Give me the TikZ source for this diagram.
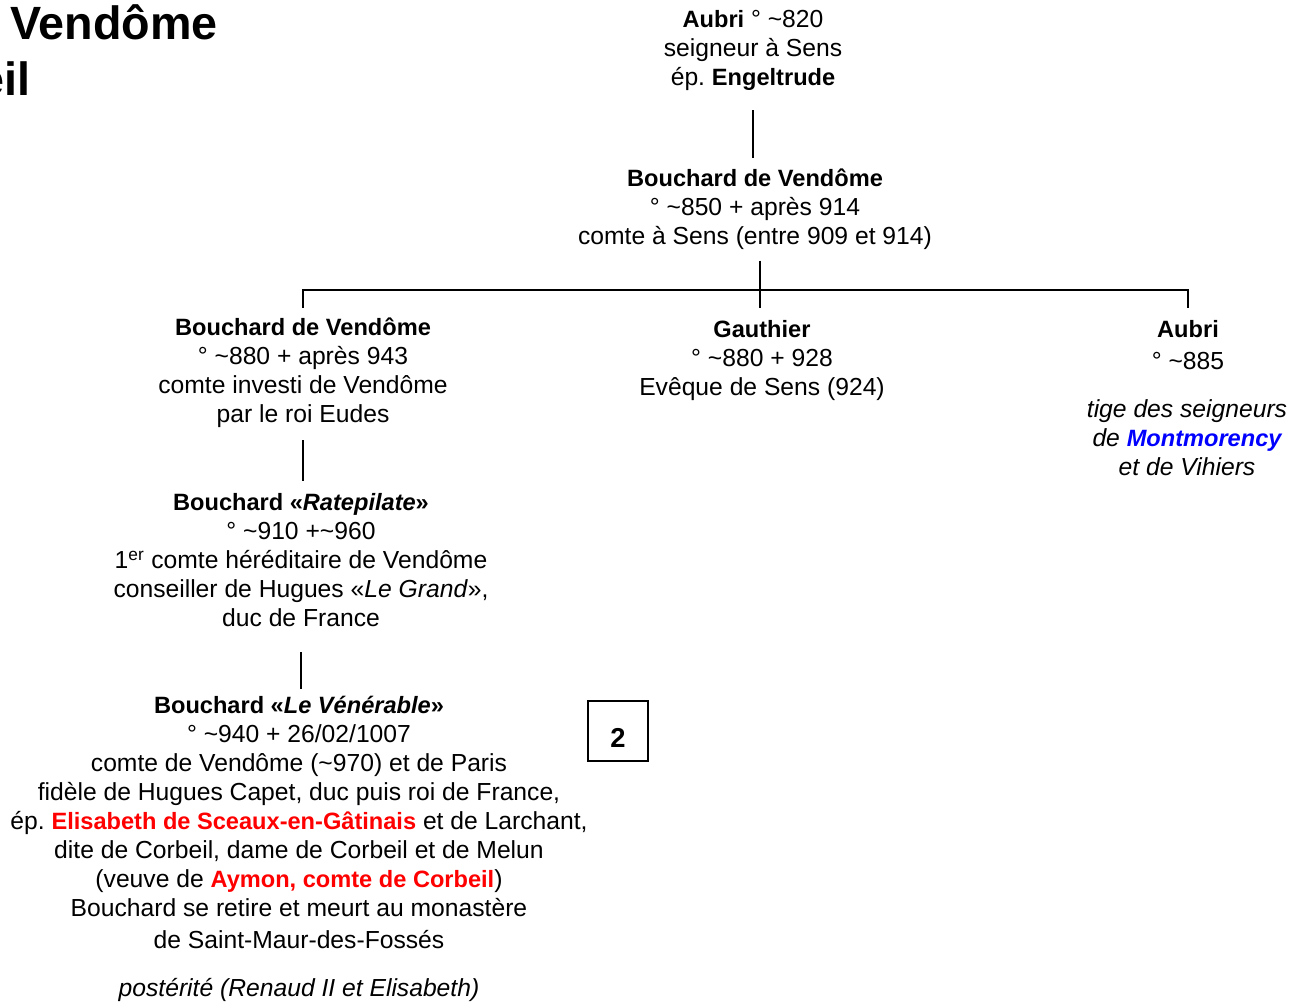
\documentclass[tikz,border=0pt]{standalone}
\usepackage{fontspec}
\setmainfont{Liberation Sans}
\usepackage{xcolor}
\definecolor{rouge}{RGB}{255,0,0}
\definecolor{bleu}{RGB}{0,0,255}
\frenchspacing
\newcommand{\nom}[1]{{\fontsize{17.7}{21.75}\selectfont\bfseries #1}}

\begin{document}
\begin{tikzpicture}[x=0.75pt,y=-0.75pt,
		person/.style={align=center, inner sep=0pt, anchor=base,
			font=\fontsize{18.5}{21.75}\selectfont},
		titre/.style={inner sep=0pt, anchor=base east,
			font=\fontsize{35}{40}\selectfont\bfseries},
		link/.style={line width=2pt},
		boite/.style={draw, line width=1.1pt, minimum size=45pt, inner sep=0pt,
			text height=25pt, text depth=0pt,
			font=\fontsize{20.5}{24}\selectfont\bfseries}]
	\useasboundingbox (0,0) rectangle (1290,1001);
	\begin{scope}
		\clip (0,0) rectangle (1290,1001);
		\node[titre] (titre1) at (218,39) {Vendôme};
		\node[titre] (titre2) at (31,95) {eil};
	\end{scope}

	% les ancres "base" sont sur la derniere ligne
	\node[person] (aubri) at (753,85.5) {
		\nom{Aubri} ° \textasciitilde820\\
		seigneur à Sens\\
		ép. \nom{Engeltrude}};
	\node[person] (bcv) at (755,244.5) {
		\nom{Bouchard de Vendôme}\\
		° \textasciitilde850 + après 914\\
		comte à Sens (entre 909 et 914)};
	\coordinate (fork) at (760,290);

	\node[person] (bvl) at (303,422.5) {
		\nom{Bouchard de Vendôme}\\
		° \textasciitilde880 + après 943\\
		comte investi de Vendôme\\
		par le roi Eudes};
	\node[person] (gauthier) at (762,395.5) {
		\nom{Gauthier}\\
		° \textasciitilde880 + 928\\
		Evêque de Sens (924)};
	\node[person] (aubri2) at (1188,369.5) {
		\nom{Aubri}\\[2.25pt]
		° \textasciitilde885};
	\node[person, font=\fontsize{18.5}{21.75}\selectfont\itshape] (tige) at (1187,475.5) {
		tige des seigneurs\\
		de \nom{\color{bleu}Montmorency}\\
		et de Vihiers};

	\node[person] (ratepilate) at (301,626.5) {
		\nom{Bouchard «\textit{Ratepilate}»}\\
		° \textasciitilde910 +\textasciitilde960\\
		1\textsuperscript{er} comte héréditaire de Vendôme\\
		conseiller de Hugues «\textit{Le Grand}»,\\
		duc de France};
	\node[person] (venerable) at (299,948.5) {
		\nom{Bouchard «\textit{Le Vénérable}»}\\
		° \textasciitilde940 + 26/02/1007\\
		comte de Vendôme (\textasciitilde970) et de Paris\\
		fidèle de Hugues Capet, duc puis roi de France,\\
		ép. \nom{\color{rouge}Elisabeth de Sceaux-en-Gâtinais} et de Larchant,\\
		dite de Corbeil, dame de Corbeil et de Melun\\
		(veuve de \nom{\color{rouge}Aymon, comte de Corbeil})\\
		Bouchard se retire et meurt au monastère\\[2.4pt]
		de Saint-Maur-des-Fossés};
	\node[person, font=\fontsize{18.5}{21.75}\selectfont\itshape] (posterite) at (299,996.5) {
		postérité (Renaud II et Elisabeth)};
	\node[boite] (num) at (618,731) {2};

	% liens de filiation
	\draw[link, shorten <=14.5pt, shorten >=8pt] (aubri.south) -- (aubri.south |- bcv.north);
	\draw[link, shorten <=8pt] (fork |- bcv.south) -- (fork);
	\draw[link, shorten >=7.5pt] (fork) -| (bvl.north);
	\draw[link, shorten >=9pt] (fork) -- (fork |- gauthier.north);
	\draw[link, shorten >=9pt] (fork) -| (aubri2.north);
	\draw[link, shorten <=9.3pt, shorten >=9.4pt] (bvl.south) -- (bvl.south |- ratepilate.north);
	\draw[link, shorten <=19pt, shorten >=5pt] (ratepilate.south) -- (ratepilate.south |- venerable.north);
\end{tikzpicture}
\end{document}
